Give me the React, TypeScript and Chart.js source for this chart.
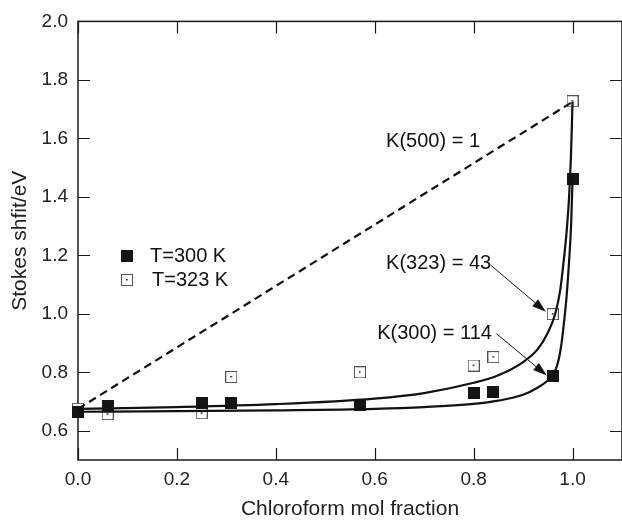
import { useEffect, useRef } from "react";
import { Chart, registerables } from "chart.js";

Chart.register(...registerables);

// ---- data ----
const moleFraction = [0, 0.06, 0.25, 0.31, 0.57, 0.8, 0.84, 0.96, 1.0];
const shift300 = [0.665, 0.685, 0.694, 0.694, 0.687, 0.728, 0.733, 0.786, 1.462];
const shift323 = [0.675, 0.657, 0.66, 0.784, 0.8, 0.823, 0.852, 0.999, 1.727];

const fitX323 = [0, 0.2, 0.4, 0.6, 0.7, 0.8, 0.85, 0.9, 0.93, 0.95, 0.965, 0.975, 0.982, 0.988, 0.993, 0.997, 1.0];
const fitY323 = [0.675, 0.681, 0.691, 0.71, 0.729, 0.764, 0.79, 0.835, 0.88, 0.935, 1.0, 1.08, 1.18, 1.28, 1.4, 1.55, 1.725];

const fitX300 = [0, 0.2, 0.4, 0.6, 0.7, 0.8, 0.85, 0.9, 0.93, 0.95, 0.96, 0.97, 0.977, 0.982, 0.988, 0.993, 0.997, 1.0];
const fitY300 = [0.665, 0.667, 0.67, 0.675, 0.681, 0.692, 0.703, 0.723, 0.748, 0.772, 0.79, 0.83, 0.89, 0.96, 1.06, 1.18, 1.3, 1.46];

const idealX = [0, 1.0];
const idealY = [0.675, 1.725];

const xTicks = [0, 0.2, 0.4, 0.6, 0.8, 1.0];
const yTicks = [0.6, 0.8, 1.0, 1.2, 1.4, 1.6, 1.8, 2.0];

const seriesLabels = ["T=300 K", "T=323 K"];
const xTitle = "Chloroform mol fraction";
const yTitle = "Stokes shfit/eV";

const noteTexts = ["K(500) = 1", "K(323) = 43", "K(300) = 114"];

// ---- layout / styling (not data) ----
const FONT = "'Liberation Sans', Arial, Helvetica, sans-serif";
const INK = "#111";
const notePositions = [
  { x: 0.623, y: 1.588 },
  { x: 0.623, y: 1.173 },
  { x: 0.605, y: 0.932 },
];
const arrows = [
  { x1: 0.834, y1: 1.167, x2: 0.946, y2: 1.007 },
  { x1: 0.846, y1: 0.932, x2: 0.948, y2: 0.789 },
];

function pairs(xs: number[], ys: number[]) {
  return xs.map((x, i) => ({ x, y: ys[i] }));
}

function makeMarker(open: boolean): HTMLCanvasElement {
  const s = 12;
  const c = document.createElement("canvas");
  c.width = s;
  c.height = s;
  const g = c.getContext("2d")!;
  if (open) {
    g.fillStyle = "#fff";
    g.fillRect(0, 0, s, s);
    g.strokeStyle = "#555";
    g.lineWidth = 1;
    g.strokeRect(0.5, 0.5, s - 1, s - 1);
    g.fillStyle = "#000";
    g.fillRect(5, 5, 1.5, 1.5);
  } else {
    g.fillStyle = "#151515";
    g.fillRect(0, 0, s, s);
  }
  return c;
}

export default function App() {
  const ref = useRef<HTMLCanvasElement | null>(null);

  useEffect(() => {
    if (!ref.current) return;
    const filled = makeMarker(false);
    const open = makeMarker(true);

    const framePlugin = {
      id: "frameTicks",
      beforeDatasetsDraw(chart: any) {
        const { ctx, chartArea: a, scales } = chart;
        ctx.save();
        ctx.strokeStyle = "#1a1a1a";
        ctx.lineWidth = 1.5;
        ctx.strokeRect(a.left, a.top, a.right - a.left, a.bottom - a.top);
        ctx.lineWidth = 1.2;
        const tl = 12;
        ctx.beginPath();
        for (const v of xTicks) {
          const px = Math.round(scales.x.getPixelForValue(v)) + 0.5;
          ctx.moveTo(px, a.bottom);
          ctx.lineTo(px, a.bottom - tl);
          ctx.moveTo(px, a.top);
          ctx.lineTo(px, a.top + tl);
        }
        for (const v of yTicks) {
          const py = Math.round(scales.y.getPixelForValue(v)) + 0.5;
          ctx.moveTo(a.left, py);
          ctx.lineTo(a.left + tl, py);
          ctx.moveTo(a.right, py);
          ctx.lineTo(a.right - tl, py);
        }
        ctx.stroke();
        ctx.restore();
      },
      afterDatasetsDraw(chart: any) {
        const { ctx, scales } = chart;
        const sx = (v: number) => scales.x.getPixelForValue(v);
        const sy = (v: number) => scales.y.getPixelForValue(v);
        ctx.save();
        ctx.fillStyle = INK;
        ctx.font = `20px ${FONT}`;
        ctx.textAlign = "left";
        ctx.textBaseline = "middle";
        noteTexts.forEach((t, i) => {
          ctx.fillText(t, sx(notePositions[i].x), sy(notePositions[i].y));
        });
        // arrows
        ctx.strokeStyle = INK;
        ctx.lineWidth = 1;
        for (const ar of arrows) {
          const x1 = sx(ar.x1), y1 = sy(ar.y1), x2 = sx(ar.x2), y2 = sy(ar.y2);
          const ang = Math.atan2(y2 - y1, x2 - x1);
          const hl = 14, hw = 4.5;
          const bx = x2 - hl * Math.cos(ang), by = y2 - hl * Math.sin(ang);
          ctx.beginPath();
          ctx.moveTo(x1, y1);
          ctx.lineTo(bx, by);
          ctx.stroke();
          ctx.beginPath();
          ctx.moveTo(x2, y2);
          ctx.lineTo(bx + hw * Math.sin(ang), by - hw * Math.cos(ang));
          ctx.lineTo(bx - hw * Math.sin(ang), by + hw * Math.cos(ang));
          ctx.closePath();
          ctx.fill();
        }
        // legend
        const lx = 127, ly = [256, 280];
        const imgs = [filled, open];
        ctx.font = `20px ${FONT}`;
        seriesLabels.forEach((lab, i) => {
          ctx.drawImage(imgs[i], lx - 6, ly[i] - 6);
          ctx.fillText(lab, lx + 23 + i * 2, ly[i]);
        });
        ctx.restore();
      },
    };

    const chart = new Chart(ref.current, {
      type: "scatter",
      data: {
        datasets: [
          {
            label: "K(500) = 1",
            data: pairs(idealX, idealY),
            showLine: true,
            borderColor: INK,
            borderWidth: 2.2,
            borderDash: [8, 5],
            pointRadius: 0,
            order: 0,
          },
          {
            label: "fit 323",
            data: pairs(fitX323, fitY323),
            showLine: true,
            borderColor: INK,
            borderWidth: 2.2,
            pointRadius: 0,
            cubicInterpolationMode: "monotone",
            order: 0,
          },
          {
            label: "fit 300",
            data: pairs(fitX300, fitY300),
            showLine: true,
            borderColor: INK,
            borderWidth: 2.2,
            pointRadius: 0,
            cubicInterpolationMode: "monotone",
            order: 0,
          },
          {
            label: seriesLabels[0],
            data: pairs(moleFraction, shift300),
            pointStyle: filled,
            pointRadius: 6,
            order: 1,
          },
          {
            label: seriesLabels[1],
            data: pairs(moleFraction, shift323),
            pointStyle: open,
            pointRadius: 6,
            order: 1,
          },
        ] as any,
      },
      options: {
        animation: false,
        responsive: false,
        clip: false as any,
        layout: { padding: { top: 19, left: 0, right: 0, bottom: 0 } },
        plugins: { legend: { display: false }, tooltip: { enabled: false } },
        scales: {
          x: {
            type: "linear",
            min: 0,
            max: 1.1,
            afterBuildTicks: (s: any) => {
              s.ticks = xTicks.map((v) => ({ value: v }));
            },
            afterFit: (s: any) => {
              s.height = 60;
            },
            grid: { display: false, drawTicks: false },
            border: { display: false },
            ticks: {
              color: "#222",
              font: { family: FONT, size: 19 },
              padding: 8,
              maxRotation: 0,
              callback: (v: any) => Number(v).toFixed(1),
            },
            title: {
              display: true,
              text: xTitle,
              color: "#222",
              font: { family: FONT, size: 21, lineHeight: 1 },
              padding: { top: 0, bottom: 0 },
            },
          },
          y: {
            type: "linear",
            min: 0.5,
            max: 2.0,
            afterBuildTicks: (s: any) => {
              s.ticks = yTicks.map((v) => ({ value: v }));
            },
            afterFit: (s: any) => {
              s.width = 78;
            },
            grid: { display: false, drawTicks: false },
            border: { display: false },
            ticks: {
              color: "#222",
              font: { family: FONT, size: 19 },
              padding: 10,
              callback: (v: any) => Number(v).toFixed(1),
            },
            title: {
              display: true,
              text: yTitle,
              color: "#222",
              font: { family: FONT, size: 21 },
              padding: { top: 8, bottom: 0 },
            },
          },
        },
      },
      plugins: [framePlugin],
    });
    return () => chart.destroy();
  }, []);

  return (
    <div
      style={{
        position: "absolute",
        left: 0,
        top: 0,
        width: 622,
        height: 520,
        overflow: "hidden",
        background: "#fff",
      }}
    >
      <canvas ref={ref} width={629} height={520} style={{ width: 629, height: 520, display: "block" }} />
    </div>
  );
}
